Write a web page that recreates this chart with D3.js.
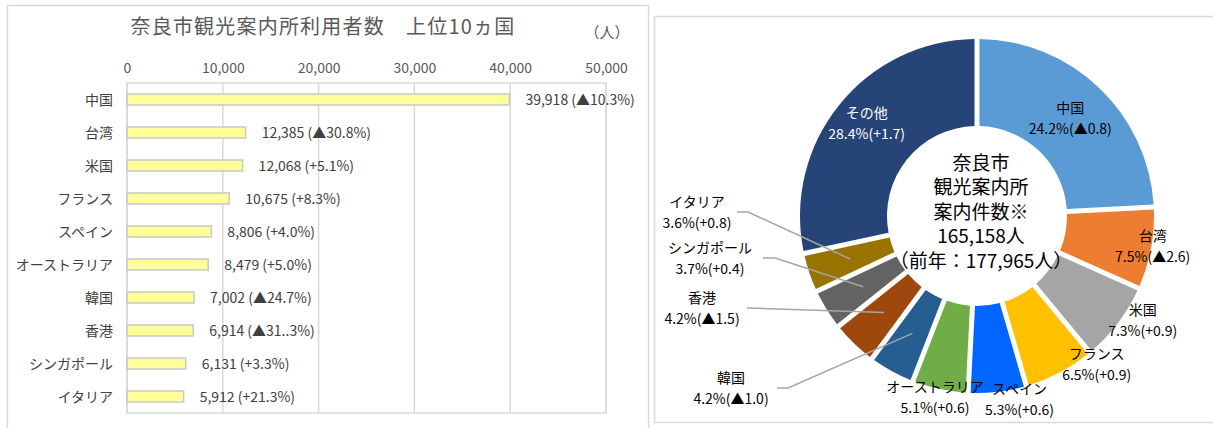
<!DOCTYPE html>
<html><head><meta charset="utf-8">
<script src="https://cdn.jsdelivr.net/npm/d3@7/dist/d3.min.js"></script>
<style>
html,body{margin:0;padding:0;background:#fff;}
svg{display:block;}
</style></head>
<body>
<svg id="chart" width="1213" height="428"></svg>
<script>
// ---- Data ----
const barCategories = ["中国","台湾","米国","フランス","スペイン","オーストラリア","韓国","香港","シンガポール","イタリア"];
const barValues = [39918, 12385, 12068, 10675, 8806, 8479, 7002, 6914, 6131, 5912];
const barChanges = ["▲10.3%","▲30.8%","+5.1%","+8.3%","+4.0%","+5.0%","▲24.7%","▲31..3%","+3.3%","+21.3%"];
const axisTicks = [0, 10000, 20000, 30000, 40000, 50000];

const pieCategories = ["中国","台湾","米国","フランス","スペイン","オーストラリア","韓国","香港","シンガポール","イタリア","その他"];
const pieShares = [24.2, 7.5, 7.3, 6.5, 5.3, 5.1, 4.2, 4.2, 3.7, 3.6, 28.4];
const pieChanges = ["▲0.8","▲2.6","+0.9","+0.9","+0.6","+0.6","▲1.0","▲1.5","+0.4","+0.8","+1.7"];
const pieColors = ["#5b9bd5","#ed7d31","#a5a5a5","#ffc000","#0066ff","#70ad47","#255e91","#9e480e","#636363","#997300","#264478"];

const barTitle = "奈良市観光案内所利用者数　上位10ヵ国";
const unitLabel = "（人）";
const centerLines = ["奈良市","観光案内所","案内件数※","165,158人","（前年：177,965人）"];

// ---- Styles / layout ----
const NARROW = "'Liberation Sans Narrow','Noto Sans CJK JP',sans-serif";
const CJK = "'Noto Sans CJK JP',sans-serif";

const svg = d3.select("#chart");

// panels
svg.append("rect").attr("x",7.5).attr("y",5.5).attr("width",641).attr("height",440)
  .attr("fill","#fff").attr("stroke","#d9d9d9").attr("stroke-width",1.5);
svg.append("rect").attr("x",654.5).attr("y",16.5).attr("width",600).attr("height",406)
  .attr("fill","#fff").attr("stroke","#d9d9d9").attr("stroke-width",1.5);

// ---- Bar chart ----
const plot = {left:127, right:606, top:83, bottom:413};
const x = d3.scaleLinear().domain([0,50000]).range([plot.left, plot.right]);
const y = d3.scaleBand().domain(barCategories).range([plot.top, plot.bottom]).paddingInner(0.667).paddingOuter(0.333);

svg.append("text").attr("x",323).attr("y",34).attr("text-anchor","middle")
  .attr("font-family",CJK).attr("font-size",20).attr("letter-spacing",1.2).attr("fill","#595959").text(barTitle);
svg.append("text").attr("x",607).attr("y",38).attr("text-anchor","middle")
  .attr("font-family",CJK).attr("font-size",15).attr("fill","#595959").text(unitLabel);

// gridlines
svg.append("g").selectAll("line").data(axisTicks).join("line")
  .attr("x1",d=>x(d)).attr("x2",d=>x(d)).attr("y1",plot.top).attr("y2",plot.bottom)
  .attr("stroke","#d9d9d9").attr("stroke-width",1.5);
svg.append("rect").attr("x",plot.left).attr("y",plot.top).attr("width",plot.right-plot.left).attr("height",plot.bottom-plot.top)
  .attr("fill","none").attr("stroke","#d9d9d9").attr("stroke-width",1.5);

// top axis labels
const axis = d3.axisTop(x).tickValues(axisTicks).tickFormat(d3.format(",")).tickSize(0).tickPadding(0);
const ag = svg.append("g").attr("transform",`translate(0,${plot.top-10})`).call(axis);
ag.select(".domain").remove();
ag.selectAll("text").attr("font-family",NARROW).attr("font-size",14).attr("fill","#595959");

// bars
svg.append("g").selectAll("rect").data(barValues).join("rect")
  .attr("x",x(0)).attr("y",(d,i)=>y(barCategories[i]))
  .attr("width",d=>x(d)-x(0)).attr("height",y.bandwidth())
  .attr("fill","#ffff99").attr("stroke","#c8c8c8").attr("stroke-width",1.5);

// category labels
svg.append("g").selectAll("text").data(barCategories).join("text")
  .attr("x",113).attr("y",d=>y(d)+y.bandwidth()/2).attr("dy","0.36em").attr("text-anchor","end")
  .attr("font-family",CJK).attr("font-size",14).attr("fill","#404040").text(d=>d);

// value labels
const fmt = d3.format(",");
svg.append("g").selectAll("text").data(barValues).join("text")
  .attr("x",d=>x(d)+16).attr("y",(d,i)=>y(barCategories[i])+y.bandwidth()/2).attr("dy","0.36em")
  .attr("font-family",NARROW).attr("font-size",14).attr("fill","#404040")
  .text((d,i)=>`${fmt(d)} (${barChanges[i]})`);

// ---- Donut ----
const cx = 977, cy = 216, R = 177, r0 = 90;
const pie = d3.pie().sort(null).value(d=>d).startAngle(0).endAngle(2*Math.PI);
const arcs = pie(pieShares);
const arc = d3.arc().innerRadius(r0).outerRadius(R).padAngle(0.05).padRadius(100);
const mid = d3.arc().innerRadius(134).outerRadius(134);

const dg = svg.append("g").attr("transform",`translate(${cx},${cy})`);
dg.selectAll("path").data(arcs).join("path").attr("d",arc).attr("fill",(d,i)=>pieColors[i]);

// center text
dg.append("g").selectAll("text").data(centerLines).join("text")
  .attr("x",4).attr("y",(d,i)=>-53+i*24.5).attr("dy","0.36em").attr("text-anchor","middle")
  .attr("font-family",CJK).attr("font-size",19).attr("fill","#000").text(d=>d);

// label placement: inside labels offset from centroid; outside labels with leaders
const inside = {
  "中国":[1,0], "その他":[-6,-8], "台湾":[44,6], "米国":[59,23],
  "フランス":[57,30], "スペイン":[27,50], "オーストラリア":[-14,50]
};
const outside = {
  "イタリア":{lx:-280, ly:-4, sx:-240, kx:-229},
  "シンガポール":{lx:-267, ly:42, sx:-214, kx:-202},
  "香港":{lx:-275, ly:92, sx:-230, kx:-230},
  "韓国":{lx:-246, ly:172, sx:-200, kx:-189}
};

const lg = dg.append("g");
arcs.forEach((a,i)=>{
  const name = pieCategories[i];
  const c = mid.centroid(a);
  const line2 = `${pieShares[i].toFixed(1)}%(${pieChanges[i]})`;
  let px, py;
  if (inside[name]) { px = c[0]+inside[name][0]; py = c[1]+inside[name][1]; }
  else {
    const o = outside[name];
    px = o.lx; py = o.ly;
    lg.append("polyline")
      .attr("points",[[o.sx,o.ly],[o.kx,o.ly],c].map(p=>p.join(",")).join(" "))
      .attr("fill","none").attr("stroke","#a6a6a6").attr("stroke-width",1.5);
  }
  const col = name==="その他" ? "#ffffff" : "#000000";
  lg.append("text").attr("x",px).attr("y",py-10.5).attr("dy","0.36em").attr("text-anchor","middle")
    .attr("font-family",CJK).attr("font-size",14).attr("fill",col).text(name);
  lg.append("text").attr("x",px).attr("y",py+10.5).attr("dy","0.36em").attr("text-anchor","middle")
    .attr("font-family",NARROW).attr("font-size",14).attr("fill",col).text(line2);
});
</script>
</body></html>
